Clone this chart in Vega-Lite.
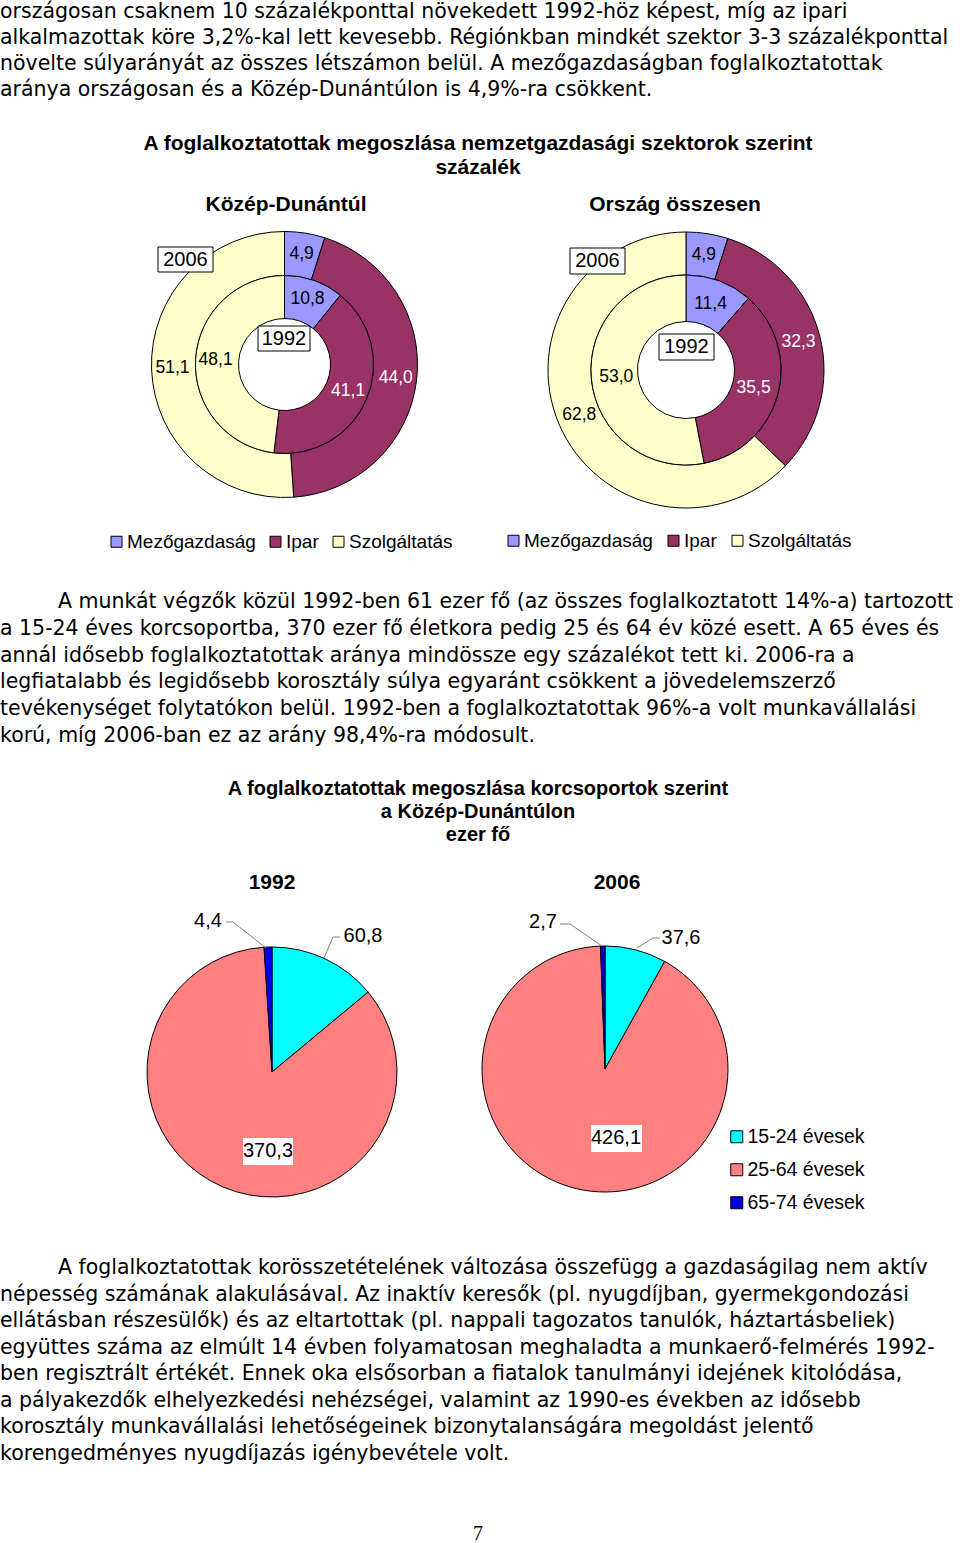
{
  "$schema": "https://vega.github.io/schema/vega-lite/v6.json",
  "width": 960,
  "height": 1543,
  "autosize": {"type": "none"},
  "padding": 0,
  "background": "white",
  "config": {
    "view": {"stroke": null},
    "axis": {"disable": true},
    "font": "Liberation Sans",
    "text": {"font": "Liberation Sans", "color": "black"},
    "locale": {"number": {"decimal": ",", "thousands": " ", "grouping": [3], "currency": ["", ""]}}
  },
  "resolve": {"scale": {"y": "independent", "color": "independent"}},
  "data": {"values": [{}]},
  "datasets": {
    "sectors": [
      {"region": "Közép-Dunántúl", "year": 2006, "sector": "Mezőgazdaság", "ord": 1, "value": 4.9},
      {"region": "Közép-Dunántúl", "year": 2006, "sector": "Ipar", "ord": 2, "value": 44.0},
      {"region": "Közép-Dunántúl", "year": 2006, "sector": "Szolgáltatás", "ord": 3, "value": 51.1},
      {"region": "Közép-Dunántúl", "year": 1992, "sector": "Mezőgazdaság", "ord": 1, "value": 10.8},
      {"region": "Közép-Dunántúl", "year": 1992, "sector": "Ipar", "ord": 2, "value": 41.1},
      {"region": "Közép-Dunántúl", "year": 1992, "sector": "Szolgáltatás", "ord": 3, "value": 48.1},
      {"region": "Ország összesen", "year": 2006, "sector": "Mezőgazdaság", "ord": 1, "value": 4.9},
      {"region": "Ország összesen", "year": 2006, "sector": "Ipar", "ord": 2, "value": 32.3},
      {"region": "Ország összesen", "year": 2006, "sector": "Szolgáltatás", "ord": 3, "value": 62.8},
      {"region": "Ország összesen", "year": 1992, "sector": "Mezőgazdaság", "ord": 1, "value": 11.4},
      {"region": "Ország összesen", "year": 1992, "sector": "Ipar", "ord": 2, "value": 35.5},
      {"region": "Ország összesen", "year": 1992, "sector": "Szolgáltatás", "ord": 3, "value": 53.0}
    ],
    "ages": [
      {"year": 1992, "group": "15-24 évesek", "value": 60.8},
      {"year": 1992, "group": "25-64 évesek", "value": 370.3},
      {"year": 1992, "group": "65-74 évesek", "value": 4.4},
      {"year": 2006, "group": "15-24 évesek", "value": 37.6},
      {"year": 2006, "group": "25-64 évesek", "value": 426.1},
      {"year": 2006, "group": "65-74 évesek", "value": 2.7}
    ]
  },
  "layer": [
    {
      "data": {"values": [
        {"line": 1, "text": "országosan csaknem 10 százalékponttal növekedett 1992-höz képest, míg az ipari"},
        {"line": 2, "text": "alkalmazottak köre 3,2%-kal lett kevesebb. Régiónkban mindkét szektor 3-3 százalékponttal"},
        {"line": 3, "text": "növelte súlyarányát az összes létszámon belül. A mezőgazdaságban foglalkoztatottak"},
        {"line": 4, "text": "aránya országosan és a Közép-Dunántúlon is 4,9%-ra csökkent."}
      ]},
      "mark": {"type": "text", "align": "left", "baseline": "alphabetic", "font": "DejaVu Sans", "fontSize": 20.5},
      "encoding": {
        "x": {"datum": 0, "type": "quantitative", "scale": {"domain": [0, 960], "nice": false, "zero": false}},
        "y": {"field": "line", "type": "quantitative", "scale": {"domain": [1, 4], "range": [17.5, 95.5], "nice": false, "zero": false}},
        "text": {"field": "text", "type": "nominal"}
      }
    },
    {
      "data": {"values": [
        {"line": 1, "text": "A munkát végzők közül 1992-ben 61 ezer fő (az összes foglalkoztatott 14%-a) tartozott"}
      ]},
      "mark": {"type": "text", "align": "left", "baseline": "alphabetic", "font": "DejaVu Sans", "fontSize": 20.5},
      "encoding": {
        "x": {"datum": 58, "type": "quantitative", "scale": {"domain": [0, 960], "nice": false, "zero": false}},
        "y": {"field": "line", "type": "quantitative", "scale": {"domain": [1, 6], "range": [608, 742], "nice": false, "zero": false}},
        "text": {"field": "text", "type": "nominal"}
      }
    },
    {
      "data": {"values": [
        {"line": 2, "text": "a 15-24 éves korcsoportba, 370 ezer fő életkora pedig 25 és 64 év közé esett. A 65 éves és"},
        {"line": 3, "text": "annál idősebb foglalkoztatottak aránya mindössze egy százalékot tett ki. 2006-ra a"},
        {"line": 4, "text": "legfiatalabb és legidősebb korosztály súlya egyaránt csökkent a jövedelemszerző"},
        {"line": 5, "text": "tevékenységet folytatókon belül. 1992-ben a foglalkoztatottak 96%-a volt munkavállalási"},
        {"line": 6, "text": "korú, míg 2006-ban ez az arány 98,4%-ra módosult."}
      ]},
      "mark": {"type": "text", "align": "left", "baseline": "alphabetic", "font": "DejaVu Sans", "fontSize": 20.5},
      "encoding": {
        "x": {"datum": 0, "type": "quantitative", "scale": {"domain": [0, 960], "nice": false, "zero": false}},
        "y": {"field": "line", "type": "quantitative", "scale": {"domain": [1, 6], "range": [608, 742], "nice": false, "zero": false}},
        "text": {"field": "text", "type": "nominal"}
      }
    },
    {
      "data": {"values": [
        {"line": 1, "text": "A foglalkoztatottak korösszetételének változása összefügg a gazdaságilag nem aktív"}
      ]},
      "mark": {"type": "text", "align": "left", "baseline": "alphabetic", "font": "DejaVu Sans", "fontSize": 20.5},
      "encoding": {
        "x": {"datum": 58, "type": "quantitative", "scale": {"domain": [0, 960], "nice": false, "zero": false}},
        "y": {"field": "line", "type": "quantitative", "scale": {"domain": [1, 8], "range": [1274, 1460], "nice": false, "zero": false}},
        "text": {"field": "text", "type": "nominal"}
      }
    },
    {
      "data": {"values": [
        {"line": 2, "text": "népesség számának alakulásával. Az inaktív keresők (pl. nyugdíjban, gyermekgondozási"},
        {"line": 3, "text": "ellátásban részesülők) és az eltartottak (pl. nappali tagozatos tanulók, háztartásbeliek)"},
        {"line": 4, "text": "együttes száma az elmúlt 14 évben folyamatosan meghaladta a munkaerő-felmérés 1992-"},
        {"line": 5, "text": "ben regisztrált értékét. Ennek oka elsősorban a fiatalok tanulmányi idejének kitolódása,"},
        {"line": 6, "text": "a pályakezdők elhelyezkedési nehézségei, valamint az 1990-es években az idősebb"},
        {"line": 7, "text": "korosztály munkavállalási lehetőségeinek bizonytalanságára megoldást jelentő"},
        {"line": 8, "text": "korengedményes nyugdíjazás igénybevétele volt."}
      ]},
      "mark": {"type": "text", "align": "left", "baseline": "alphabetic", "font": "DejaVu Sans", "fontSize": 20.5},
      "encoding": {
        "x": {"datum": 0, "type": "quantitative", "scale": {"domain": [0, 960], "nice": false, "zero": false}},
        "y": {"field": "line", "type": "quantitative", "scale": {"domain": [1, 8], "range": [1274, 1460], "nice": false, "zero": false}},
        "text": {"field": "text", "type": "nominal"}
      }
    },
    {
      "layer": [
        {
          "mark": {"type": "text", "text": "A foglalkoztatottak megoszlása nemzetgazdasági szektorok szerint", "fontSize": 21, "fontWeight": "bold", "align": "center", "baseline": "middle"},
          "encoding": {
            "x": {"datum": 478, "type": "quantitative", "scale": {"domain": [0, 960], "nice": false, "zero": false}},
            "y": {"datum": 144, "type": "quantitative", "scale": {"domain": [0, 1543], "nice": false, "zero": false, "reverse": true}}
          }
        },
        {
          "mark": {"type": "text", "text": "százalék", "fontSize": 21, "fontWeight": "bold", "align": "center", "baseline": "middle"},
          "encoding": {"x": {"datum": 478, "type": "quantitative"}, "y": {"datum": 168, "type": "quantitative"}}
        },
        {
          "mark": {"type": "text", "text": "Közép-Dunántúl", "fontSize": 21, "fontWeight": "bold", "align": "center", "baseline": "middle"},
          "encoding": {"x": {"datum": 286, "type": "quantitative"}, "y": {"datum": 205, "type": "quantitative"}}
        },
        {
          "mark": {"type": "text", "text": "Ország összesen", "fontSize": 21, "fontWeight": "bold", "align": "center", "baseline": "middle"},
          "encoding": {"x": {"datum": 675, "type": "quantitative"}, "y": {"datum": 205, "type": "quantitative"}}
        },
        {
          "mark": {"type": "text", "text": "A foglalkoztatottak megoszlása korcsoportok szerint", "fontSize": 20, "fontWeight": "bold", "align": "center", "baseline": "middle"},
          "encoding": {"x": {"datum": 478, "type": "quantitative"}, "y": {"datum": 789, "type": "quantitative"}}
        },
        {
          "mark": {"type": "text", "text": "a Közép-Dunántúlon", "fontSize": 20, "fontWeight": "bold", "align": "center", "baseline": "middle"},
          "encoding": {"x": {"datum": 478, "type": "quantitative"}, "y": {"datum": 812, "type": "quantitative"}}
        },
        {
          "mark": {"type": "text", "text": "ezer fő", "fontSize": 20, "fontWeight": "bold", "align": "center", "baseline": "middle"},
          "encoding": {"x": {"datum": 478, "type": "quantitative"}, "y": {"datum": 835, "type": "quantitative"}}
        },
        {
          "mark": {"type": "text", "text": "1992", "fontSize": 21, "fontWeight": "bold", "align": "center", "baseline": "middle"},
          "encoding": {"x": {"datum": 272, "type": "quantitative"}, "y": {"datum": 883, "type": "quantitative"}}
        },
        {
          "mark": {"type": "text", "text": "2006", "fontSize": 21, "fontWeight": "bold", "align": "center", "baseline": "middle"},
          "encoding": {"x": {"datum": 617, "type": "quantitative"}, "y": {"datum": 883, "type": "quantitative"}}
        },
        {
          "mark": {"type": "text", "text": "7", "font": "Liberation Serif", "fontSize": 20, "align": "center", "baseline": "middle"},
          "encoding": {"x": {"datum": 478, "type": "quantitative"}, "y": {"datum": 1534, "type": "quantitative"}}
        }
      ]
    },
    {
      "layer": [
        {
          "data": {"name": "sectors"},
          "transform": [{"filter": "datum.region === 'Közép-Dunántúl' && datum.year === 2006"}],
          "mark": {"type": "arc", "innerRadius": 89, "outerRadius": 133, "stroke": "black", "strokeWidth": 1},
          "encoding": {
            "x": {"datum": 284.5, "type": "quantitative", "scale": {"domain": [0, 960], "nice": false, "zero": false}},
            "y": {"datum": 364.5, "type": "quantitative", "scale": {"domain": [0, 1543], "nice": false, "zero": false, "reverse": true}},
            "theta": {"field": "value", "type": "quantitative", "stack": "normalize"},
            "order": {"field": "ord", "type": "quantitative"},
            "color": {"field": "sector", "type": "nominal",
              "scale": {"domain": ["Mezőgazdaság", "Ipar", "Szolgáltatás"], "range": ["#9999FF", "#993366", "#FFFFCC"]},
              "legend": {"orient": "none", "legendX": 107, "legendY": 532, "direction": "horizontal", "title": null, "symbolType": "square", "symbolSize": 121, "symbolStrokeColor": "black", "symbolStrokeWidth": 1, "labelFont": "Liberation Sans", "labelFontSize": 19, "labelColor": "black", "labelOffset": 1, "columnPadding": 10}}
          }
        },
        {
          "data": {"name": "sectors"},
          "transform": [{"filter": "datum.region === 'Közép-Dunántúl' && datum.year === 1992"}],
          "mark": {"type": "arc", "innerRadius": 46, "outerRadius": 89, "stroke": "black", "strokeWidth": 1},
          "encoding": {
            "x": {"datum": 284.5, "type": "quantitative"},
            "y": {"datum": 364.5, "type": "quantitative"},
            "theta": {"field": "value", "type": "quantitative", "stack": "normalize"},
            "order": {"field": "ord", "type": "quantitative"},
            "color": {"field": "sector", "type": "nominal"}
          }
        },
        {
          "data": {"name": "sectors"},
          "transform": [{"filter": "datum.region === 'Közép-Dunántúl' && datum.year === 2006"}],
          "mark": {"type": "text", "radius": 112, "fontSize": 17.5, "align": "center", "baseline": "middle"},
          "encoding": {
            "x": {"datum": 284.5, "type": "quantitative"},
            "y": {"datum": 364.5, "type": "quantitative"},
            "theta": {"field": "value", "type": "quantitative", "stack": "normalize"},
            "order": {"field": "ord", "type": "quantitative"},
            "detail": {"field": "sector", "type": "nominal"},
            "text": {"field": "value", "type": "quantitative", "format": ".1f"},
            "color": {"condition": {"test": "datum.sector === 'Ipar'", "value": "white"}, "value": "black"}
          }
        },
        {
          "data": {"name": "sectors"},
          "transform": [{"filter": "datum.region === 'Közép-Dunántúl' && datum.year === 1992"}],
          "mark": {"type": "text", "radius": 69, "fontSize": 17.5, "align": "center", "baseline": "middle"},
          "encoding": {
            "x": {"datum": 284.5, "type": "quantitative"},
            "y": {"datum": 364.5, "type": "quantitative"},
            "theta": {"field": "value", "type": "quantitative", "stack": "normalize"},
            "order": {"field": "ord", "type": "quantitative"},
            "detail": {"field": "sector", "type": "nominal"},
            "text": {"field": "value", "type": "quantitative", "format": ".1f"},
            "color": {"condition": {"test": "datum.sector === 'Ipar'", "value": "white"}, "value": "black"}
          }
        },
        {
          "mark": {"type": "rect", "fill": "white", "stroke": "black", "strokeWidth": 1},
          "encoding": {"x": {"datum": 158, "type": "quantitative"}, "x2": {"datum": 213}, "y": {"datum": 247, "type": "quantitative"}, "y2": {"datum": 272}}
        },
        {
          "mark": {"type": "text", "text": "2006", "fontSize": 20, "align": "center", "baseline": "middle"},
          "encoding": {"x": {"datum": 185.5, "type": "quantitative"}, "y": {"datum": 259.5, "type": "quantitative"}}
        },
        {
          "mark": {"type": "rect", "fill": "white", "stroke": "black", "strokeWidth": 1},
          "encoding": {"x": {"datum": 258, "type": "quantitative"}, "x2": {"datum": 310}, "y": {"datum": 326, "type": "quantitative"}, "y2": {"datum": 351}}
        },
        {
          "mark": {"type": "text", "text": "1992", "fontSize": 20, "align": "center", "baseline": "middle"},
          "encoding": {"x": {"datum": 284, "type": "quantitative"}, "y": {"datum": 338.5, "type": "quantitative"}}
        }
      ]
    },
    {
      "layer": [
        {
          "data": {"name": "sectors"},
          "transform": [{"filter": "datum.region === 'Ország összesen' && datum.year === 2006"}],
          "mark": {"type": "arc", "innerRadius": 95, "outerRadius": 138, "stroke": "black", "strokeWidth": 1},
          "encoding": {
            "x": {"datum": 686, "type": "quantitative", "scale": {"domain": [0, 960], "nice": false, "zero": false}},
            "y": {"datum": 370, "type": "quantitative", "scale": {"domain": [0, 1543], "nice": false, "zero": false, "reverse": true}},
            "theta": {"field": "value", "type": "quantitative", "stack": "normalize"},
            "order": {"field": "ord", "type": "quantitative"},
            "color": {"field": "sector", "type": "nominal",
              "scale": {"domain": ["Mezőgazdaság", "Ipar", "Szolgáltatás"], "range": ["#9999FF", "#993366", "#FFFFCC"]},
              "legend": {"orient": "none", "legendX": 504, "legendY": 531, "direction": "horizontal", "title": null, "symbolType": "square", "symbolSize": 121, "symbolStrokeColor": "black", "symbolStrokeWidth": 1, "labelFont": "Liberation Sans", "labelFontSize": 19, "labelColor": "black", "labelOffset": 1, "columnPadding": 11}}
          }
        },
        {
          "data": {"name": "sectors"},
          "transform": [{"filter": "datum.region === 'Ország összesen' && datum.year === 1992"}],
          "mark": {"type": "arc", "innerRadius": 48.5, "outerRadius": 95, "stroke": "black", "strokeWidth": 1},
          "encoding": {
            "x": {"datum": 686, "type": "quantitative"},
            "y": {"datum": 370, "type": "quantitative"},
            "theta": {"field": "value", "type": "quantitative", "stack": "normalize"},
            "order": {"field": "ord", "type": "quantitative"},
            "color": {"field": "sector", "type": "nominal"}
          }
        },
        {
          "data": {"name": "sectors"},
          "transform": [{"filter": "datum.region === 'Ország összesen' && datum.year === 2006"}],
          "mark": {"type": "text", "radius": 116, "fontSize": 17.5, "align": "center", "baseline": "middle"},
          "encoding": {
            "x": {"datum": 686, "type": "quantitative"},
            "y": {"datum": 370, "type": "quantitative"},
            "theta": {"field": "value", "type": "quantitative", "stack": "normalize"},
            "order": {"field": "ord", "type": "quantitative"},
            "detail": {"field": "sector", "type": "nominal"},
            "text": {"field": "value", "type": "quantitative", "format": ".1f"},
            "color": {"condition": {"test": "datum.sector === 'Ipar'", "value": "white"}, "value": "black"}
          }
        },
        {
          "data": {"name": "sectors"},
          "transform": [{"filter": "datum.region === 'Ország összesen' && datum.year === 1992"}],
          "mark": {"type": "text", "radius": 70, "fontSize": 17.5, "align": "center", "baseline": "middle"},
          "encoding": {
            "x": {"datum": 686, "type": "quantitative"},
            "y": {"datum": 370, "type": "quantitative"},
            "theta": {"field": "value", "type": "quantitative", "stack": "normalize"},
            "order": {"field": "ord", "type": "quantitative"},
            "detail": {"field": "sector", "type": "nominal"},
            "text": {"field": "value", "type": "quantitative", "format": ".1f"},
            "color": {"condition": {"test": "datum.sector === 'Ipar'", "value": "white"}, "value": "black"}
          }
        },
        {
          "mark": {"type": "rect", "fill": "white", "stroke": "black", "strokeWidth": 1},
          "encoding": {"x": {"datum": 570, "type": "quantitative"}, "x2": {"datum": 625}, "y": {"datum": 248, "type": "quantitative"}, "y2": {"datum": 274}}
        },
        {
          "mark": {"type": "text", "text": "2006", "fontSize": 20, "align": "center", "baseline": "middle"},
          "encoding": {"x": {"datum": 597.5, "type": "quantitative"}, "y": {"datum": 261, "type": "quantitative"}}
        },
        {
          "mark": {"type": "rect", "fill": "white", "stroke": "black", "strokeWidth": 1},
          "encoding": {"x": {"datum": 659, "type": "quantitative"}, "x2": {"datum": 714}, "y": {"datum": 334, "type": "quantitative"}, "y2": {"datum": 360}}
        },
        {
          "mark": {"type": "text", "text": "1992", "fontSize": 20, "align": "center", "baseline": "middle"},
          "encoding": {"x": {"datum": 686.5, "type": "quantitative"}, "y": {"datum": 347, "type": "quantitative"}}
        }
      ]
    },
    {
      "layer": [
        {
          "data": {"name": "ages"},
          "transform": [{"filter": "datum.year === 1992"}],
          "mark": {"type": "arc", "outerRadius": 125, "stroke": "black", "strokeWidth": 1},
          "encoding": {
            "x": {"datum": 272, "type": "quantitative", "scale": {"domain": [0, 960], "nice": false, "zero": false}},
            "y": {"datum": 1072, "type": "quantitative", "scale": {"domain": [0, 1543], "nice": false, "zero": false, "reverse": true}},
            "theta": {"field": "value", "type": "quantitative", "stack": "normalize"},
            "order": {"field": "group", "type": "ordinal"},
            "color": {"field": "group", "type": "nominal",
              "scale": {"domain": ["15-24 évesek", "25-64 évesek", "65-74 évesek"], "range": ["#00FFFF", "#FF8080", "#0000EE"]},
              "legend": {"orient": "none", "legendX": 727, "legendY": 1127, "direction": "vertical", "title": null, "symbolType": "square", "symbolSize": 144, "symbolStrokeColor": "black", "symbolStrokeWidth": 1, "labelFont": "Liberation Sans", "labelFontSize": 19.5, "labelColor": "black", "labelOffset": 1, "rowPadding": 12}}
          }
        },
        {
          "data": {"name": "ages"},
          "transform": [{"filter": "datum.year === 2006"}],
          "mark": {"type": "arc", "outerRadius": 123, "stroke": "black", "strokeWidth": 1},
          "encoding": {
            "x": {"datum": 605, "type": "quantitative"},
            "y": {"datum": 1069, "type": "quantitative"},
            "theta": {"field": "value", "type": "quantitative", "stack": "normalize"},
            "order": {"field": "group", "type": "ordinal"},
            "color": {"field": "group", "type": "nominal"}
          }
        },
        {
          "mark": {"type": "rule", "color": "#808080", "strokeWidth": 1},
          "encoding": {"x": {"datum": 226, "type": "quantitative"}, "x2": {"datum": 233}, "y": {"datum": 922, "type": "quantitative"}, "y2": {"datum": 922}}
        },
        {
          "mark": {"type": "rule", "color": "#808080", "strokeWidth": 1},
          "encoding": {"x": {"datum": 233, "type": "quantitative"}, "x2": {"datum": 266}, "y": {"datum": 922, "type": "quantitative"}, "y2": {"datum": 948}}
        },
        {
          "mark": {"type": "rule", "color": "#808080", "strokeWidth": 1},
          "encoding": {"x": {"datum": 340, "type": "quantitative"}, "x2": {"datum": 333}, "y": {"datum": 937, "type": "quantitative"}, "y2": {"datum": 937}}
        },
        {
          "mark": {"type": "rule", "color": "#808080", "strokeWidth": 1},
          "encoding": {"x": {"datum": 333, "type": "quantitative"}, "x2": {"datum": 324}, "y": {"datum": 937, "type": "quantitative"}, "y2": {"datum": 958}}
        },
        {
          "mark": {"type": "rule", "color": "#808080", "strokeWidth": 1},
          "encoding": {"x": {"datum": 560, "type": "quantitative"}, "x2": {"datum": 570}, "y": {"datum": 924, "type": "quantitative"}, "y2": {"datum": 924}}
        },
        {
          "mark": {"type": "rule", "color": "#808080", "strokeWidth": 1},
          "encoding": {"x": {"datum": 570, "type": "quantitative"}, "x2": {"datum": 602}, "y": {"datum": 924, "type": "quantitative"}, "y2": {"datum": 946}}
        },
        {
          "mark": {"type": "rule", "color": "#808080", "strokeWidth": 1},
          "encoding": {"x": {"datum": 660, "type": "quantitative"}, "x2": {"datum": 653}, "y": {"datum": 938, "type": "quantitative"}, "y2": {"datum": 938}}
        },
        {
          "mark": {"type": "rule", "color": "#808080", "strokeWidth": 1},
          "encoding": {"x": {"datum": 653, "type": "quantitative"}, "x2": {"datum": 637}, "y": {"datum": 938, "type": "quantitative"}, "y2": {"datum": 948}}
        },
        {
          "mark": {"type": "rect", "fill": "white"},
          "encoding": {"x": {"datum": 243, "type": "quantitative"}, "x2": {"datum": 293}, "y": {"datum": 1138, "type": "quantitative"}, "y2": {"datum": 1165}}
        },
        {
          "mark": {"type": "rect", "fill": "white"},
          "encoding": {"x": {"datum": 591, "type": "quantitative"}, "x2": {"datum": 642}, "y": {"datum": 1125, "type": "quantitative"}, "y2": {"datum": 1152}}
        },
        {
          "data": {"name": "ages"},
          "transform": [{"filter": "datum.year === 1992 && datum.group === '65-74 évesek'"}],
          "mark": {"type": "text", "fontSize": 20, "align": "center", "baseline": "middle"},
          "encoding": {"x": {"datum": 208, "type": "quantitative"}, "y": {"datum": 921, "type": "quantitative"}, "text": {"field": "value", "type": "quantitative", "format": ".1f"}}
        },
        {
          "data": {"name": "ages"},
          "transform": [{"filter": "datum.year === 1992 && datum.group === '15-24 évesek'"}],
          "mark": {"type": "text", "fontSize": 20, "align": "center", "baseline": "middle"},
          "encoding": {"x": {"datum": 363, "type": "quantitative"}, "y": {"datum": 936, "type": "quantitative"}, "text": {"field": "value", "type": "quantitative", "format": ".1f"}}
        },
        {
          "data": {"name": "ages"},
          "transform": [{"filter": "datum.year === 1992 && datum.group === '25-64 évesek'"}],
          "mark": {"type": "text", "fontSize": 20, "align": "center", "baseline": "middle"},
          "encoding": {"x": {"datum": 268, "type": "quantitative"}, "y": {"datum": 1151, "type": "quantitative"}, "text": {"field": "value", "type": "quantitative", "format": ".1f"}}
        },
        {
          "data": {"name": "ages"},
          "transform": [{"filter": "datum.year === 2006 && datum.group === '65-74 évesek'"}],
          "mark": {"type": "text", "fontSize": 20, "align": "center", "baseline": "middle"},
          "encoding": {"x": {"datum": 543, "type": "quantitative"}, "y": {"datum": 922, "type": "quantitative"}, "text": {"field": "value", "type": "quantitative", "format": ".1f"}}
        },
        {
          "data": {"name": "ages"},
          "transform": [{"filter": "datum.year === 2006 && datum.group === '15-24 évesek'"}],
          "mark": {"type": "text", "fontSize": 20, "align": "center", "baseline": "middle"},
          "encoding": {"x": {"datum": 681, "type": "quantitative"}, "y": {"datum": 938, "type": "quantitative"}, "text": {"field": "value", "type": "quantitative", "format": ".1f"}}
        },
        {
          "data": {"name": "ages"},
          "transform": [{"filter": "datum.year === 2006 && datum.group === '25-64 évesek'"}],
          "mark": {"type": "text", "fontSize": 20, "align": "center", "baseline": "middle"},
          "encoding": {"x": {"datum": 616, "type": "quantitative"}, "y": {"datum": 1138, "type": "quantitative"}, "text": {"field": "value", "type": "quantitative", "format": ".1f"}}
        }
      ]
    }
  ]
}
